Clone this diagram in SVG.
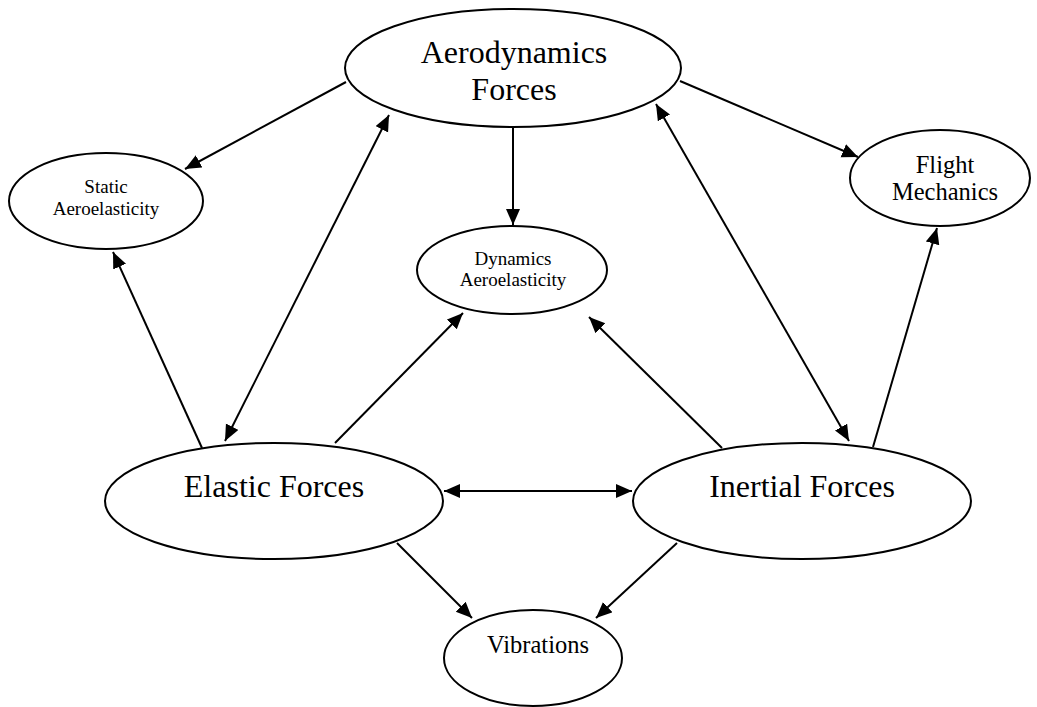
<svg xmlns="http://www.w3.org/2000/svg" width="1037" height="707" viewBox="0 0 1037 707">
<style>
  ellipse { fill: #fff; stroke: #000; stroke-width: 2; }
  text { font-family: "Liberation Serif", "Times New Roman", serif; fill: #000; text-anchor: middle; }
  .big { font-size: 32px; }
  .mid { font-size: 24.5px; }
  .sm { font-size: 19px; }
  .conn line { stroke: #000; stroke-width: 2; fill: none; }
  .one { marker-end: url(#ah); }
  .two { marker-start: url(#ah); marker-end: url(#ah); }
</style>
<defs>
  <marker id="ah" markerUnits="userSpaceOnUse" markerWidth="18" markerHeight="16" refX="16" refY="7" orient="auto-start-reverse" viewBox="0 0 18 16">
    <path d="M0,0 L16,7 L0,14 z" fill="#000"/>
  </marker>
</defs>
<rect width="1037" height="707" fill="#fff"/>
<g class="conn" id="connectors">
  <line class="one" x1="346" y1="82" x2="185" y2="169"/>
  <line class="two" x1="389" y1="115" x2="225" y2="441"/>
  <line class="one" x1="202" y1="448" x2="113" y2="252"/>
  <line class="one" x1="335" y1="443" x2="463" y2="313"/>
  <line class="one" x1="513" y1="128" x2="513" y2="225"/>
  <line class="one" x1="680" y1="81" x2="858" y2="157"/>
  <line class="two" x1="656" y1="104" x2="849" y2="441"/>
  <line class="one" x1="873" y1="447" x2="937" y2="228"/>
  <line class="one" x1="722" y1="448" x2="589" y2="317"/>
  <line class="two" x1="444" y1="491" x2="632" y2="491"/>
  <line class="one" x1="397" y1="543" x2="472" y2="618"/>
  <line class="one" x1="677" y1="543" x2="596" y2="618"/>
</g>
<g id="aero">
  <ellipse cx="513" cy="68" rx="168" ry="59"/>
  <text class="big" x="514" y="63">Aerodynamics</text>
  <text class="big" x="514" y="100">Forces</text>
</g>
<g id="static">
  <ellipse cx="106" cy="201" rx="97" ry="48"/>
  <text class="sm" x="106" y="193">Static</text>
  <text class="sm" x="106" y="215">Aeroelasticity</text>
</g>
<g id="dynamics">
  <ellipse cx="512" cy="270" rx="95" ry="44"/>
  <text class="sm" x="513" y="265">Dynamics</text>
  <text class="sm" x="513" y="286">Aeroelasticity</text>
</g>
<g id="flight">
  <ellipse cx="940" cy="178" rx="90" ry="48"/>
  <text class="mid" x="945" y="173">Flight</text>
  <text class="mid" x="945" y="200">Mechanics</text>
</g>
<g id="elastic">
  <ellipse cx="274" cy="501" rx="169" ry="58"/>
  <text class="big" x="274" y="497">Elastic Forces</text>
</g>
<g id="inertial">
  <ellipse cx="802" cy="501" rx="169" ry="58"/>
  <text class="big" x="802" y="497">Inertial Forces</text>
</g>
<g id="vibrations">
  <ellipse cx="533" cy="658" rx="89" ry="48"/>
  <text class="mid" x="538" y="653">Vibrations</text>
</g>
</svg>
